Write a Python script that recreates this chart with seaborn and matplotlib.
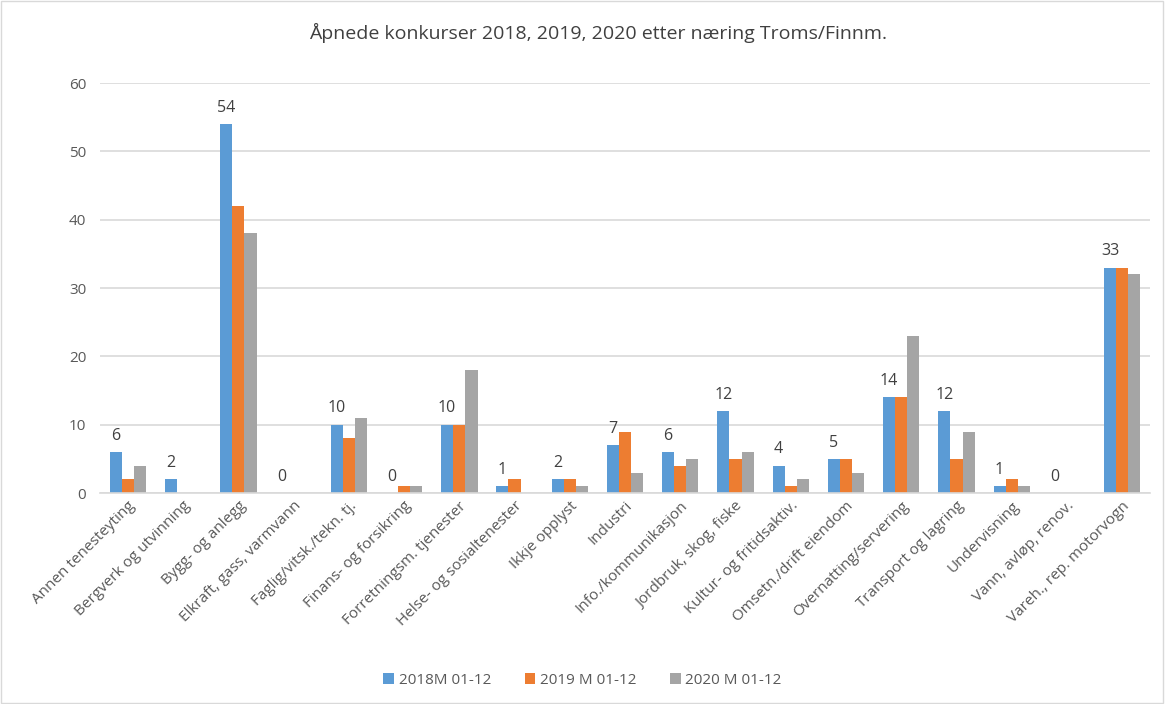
import pandas as pd
import seaborn as sns
from matplotlib import pyplot as plt
from matplotlib.patches import Rectangle

categories = ['Annen tenesteyting', 'Bergverk og utvinning', 'Bygg- og anlegg',
              'Elkraft, gass, varmvann', 'Faglig/vitsk./tekn. tj.', 'Finans- og forsikring',
              'Forretningsm. tjenester', 'Helse- og sosialtenester', 'Ikkje opplyst',
              'Industri', 'Info./kommunikasjon', 'Jordbruk, skog, fiske',
              'Kultur- og fritidsaktiv.', 'Omsetn./drift eiendom', 'Overnatting/servering',
              'Transport og lagring', 'Undervisning', 'Vann, avløp, renov.',
              'Vareh., rep. motorvogn']
v2018 = [6, 2, 54, 0, 10, 0, 10, 1, 2, 7, 6, 12, 4, 5, 14, 12, 1, 0, 33]
v2019 = [2, 0, 42, 0, 8, 1, 10, 2, 2, 9, 4, 5, 1, 5, 14, 5, 2, 0, 33]
v2020 = [4, 0, 38, 0, 11, 1, 18, 0, 1, 3, 5, 6, 2, 3, 23, 9, 1, 0, 32]
series = ['2018M 01-12', '2019 M 01-12', '2020 M 01-12']
custom_colors = ['#5B9BD5', '#ED7D31', '#A5A5A5']

df = pd.DataFrame({'naering': categories * 3,
                   'antall': v2018 + v2019 + v2020,
                   'periode': [s for s in series for _ in categories]})

sns.set_style('white')
plt.rcParams['font.family'] = ['Open Sans', 'DejaVu Sans']
txt = '#595959'

fig = plt.figure(figsize=(11.65, 7.04), dpi=100)
ax = fig.add_axes([0.086, 0.2997, 0.901, 0.5824])
sns.barplot(data=df, x='naering', y='antall', hue='periode', palette=custom_colors,
            width=0.66, saturation=1, linewidth=0, edgecolor='none', ax=ax)

# data labels only on the 2018 series
ax.bar_label(ax.containers[0], labels=[str(v) for v in v2018], padding=6,
             fontsize=11.5, color='#404040')

ax.set_ylim(0, 60)
ax.set_yticks(range(0, 61, 10))
ax.yaxis.grid(True, color='#d9d9d9', linewidth=1.2)
ax.set_axisbelow(True)
for s in ['top', 'right', 'left']:
    ax.spines[s].set_visible(False)
ax.spines['bottom'].set_color('#d9d9d9')
ax.spines['bottom'].set_linewidth(1.2)
ax.set_xlim(-0.5, len(categories) - 0.5)
ax.set_xlabel('')
ax.set_ylabel('')
ax.tick_params(axis='y', labelsize=11, colors=txt, length=0, pad=10)
ax.tick_params(axis='x', labelsize=11, colors=txt, length=0, pad=4)
plt.setp(ax.get_xticklabels(), rotation=45, ha='right', rotation_mode='anchor')

fig.text(0.513, 0.953, 'Åpnede konkurser 2018, 2019, 2020 etter næring Troms/Finnm.',
         fontsize=14, color='#404040', ha='center', va='center')

handles, labels = ax.get_legend_handles_labels()
ax.legend(handles, labels, loc='center', bbox_to_anchor=(0.5, 0.034),
          bbox_transform=fig.transFigure, ncol=3, frameon=False, fontsize=11,
          handlelength=0.7, handleheight=0.7, handletextpad=0.3, columnspacing=2.2,
          labelcolor=txt)

fig.patches.append(Rectangle((0.001, 0.001), 0.997, 0.997, transform=fig.transFigure,
                             fill=False, edgecolor='#d9d9d9', linewidth=1))

plt.savefig('out.png', dpi=100)
plt.close()
